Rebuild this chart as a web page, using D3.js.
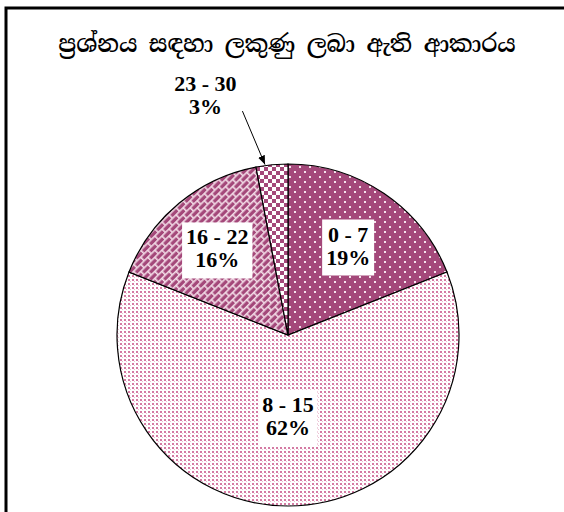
<!DOCTYPE html>
<html>
<head>
<meta charset="utf-8">
<script src="https://cdnjs.cloudflare.com/ajax/libs/d3/7.8.5/d3.min.js"></script>
<style>
  html, body { margin: 0; padding: 0; background: #fff; }
  svg { display: block; }
</style>
</head>
<body>
<div id="chart"></div>
<script>
// data
const title = "ප්‍රශ්නය සඳහා ලකුණු ලබා ඇති ආකාරය";
const categories = ["0 - 7", "8 - 15", "16 - 22", "23 - 30"];
const percents = [19, 62, 16, 3];
const patterns = ["dots", "fine", "brick", "check"];

const width = 564;
const height = 512;
const purple = "#a4487a";

const svg = d3.select("#chart")
    .append("svg")
    .attr("width", width)
    .attr("height", height);

// patterns
const defs = svg.append("defs");

const pDots = defs.append("pattern")
    .attr("id", "dots")
    .attr("patternUnits", "userSpaceOnUse")
    .attr("width", 10).attr("height", 10);
pDots.append("rect").attr("width", 10).attr("height", 10).attr("fill", purple);
pDots.append("rect").attr("x", 1).attr("y", 1).attr("width", 2).attr("height", 2).attr("fill", "#f4e4ec");
pDots.append("rect").attr("x", 6).attr("y", 6).attr("width", 2).attr("height", 2).attr("fill", "#f4e4ec");

const pFine = defs.append("pattern")
    .attr("id", "fine")
    .attr("patternUnits", "userSpaceOnUse")
    .attr("width", 4).attr("height", 4);
pFine.append("rect").attr("width", 4).attr("height", 4).attr("fill", "#fff");
pFine.append("rect").attr("x", 0).attr("y", 0).attr("width", 2).attr("height", 2).attr("fill", "#d47aa3");
pFine.append("rect").attr("x", 2).attr("y", 2).attr("width", 1).attr("height", 1).attr("fill", "#ecbdd2");

const pBrick = defs.append("pattern")
    .attr("id", "brick")
    .attr("patternUnits", "userSpaceOnUse")
    .attr("width", 10).attr("height", 10)
    .attr("patternTransform", "rotate(-45)");
pBrick.append("rect").attr("width", 10).attr("height", 10).attr("fill", purple);
pBrick.append("rect").attr("x", 0).attr("y", 0).attr("width", 10).attr("height", 1.6).attr("fill", "#f2dbe6");
pBrick.append("rect").attr("x", 0).attr("y", 5).attr("width", 10).attr("height", 1.6).attr("fill", "#f2dbe6");
pBrick.append("rect").attr("x", 0).attr("y", 0).attr("width", 1.6).attr("height", 5).attr("fill", "#f2dbe6");
pBrick.append("rect").attr("x", 5).attr("y", 5).attr("width", 1.6).attr("height", 5).attr("fill", "#f2dbe6");

const pCheck = defs.append("pattern")
    .attr("id", "check")
    .attr("patternUnits", "userSpaceOnUse")
    .attr("width", 8).attr("height", 8);
pCheck.append("rect").attr("width", 8).attr("height", 8).attr("fill", "#fff");
pCheck.append("rect").attr("x", 0).attr("y", 0).attr("width", 4).attr("height", 4).attr("fill", purple);
pCheck.append("rect").attr("x", 4).attr("y", 4).attr("width", 4).attr("height", 4).attr("fill", purple);

// frame
svg.append("rect")
    .attr("x", 6).attr("y", 8)
    .attr("width", 700).attr("height", 700)
    .attr("fill", "none")
    .attr("stroke", "#000")
    .attr("stroke-width", 3);

// title
svg.append("text")
    .attr("x", 287).attr("y", 52)
    .attr("text-anchor", "middle")
    .style("font-family", "'Noto Serif Sinhala', 'Iskoola Pota', 'Noto Sans Sinhala', serif")
    .style("font-size", "23px")
    .style("font-weight", "600")
    .text(title);

// pie
const cx = 288, cy = 335, radius = 171;
const pie = d3.pie().sort(null).value(d => d);
const arcs = pie(percents);
const arc = d3.arc().innerRadius(0).outerRadius(radius);

const g = svg.append("g").attr("transform", `translate(${cx},${cy})`);

g.selectAll("path.slice")
    .data(arcs)
    .enter()
    .append("path")
    .attr("class", "slice")
    .attr("d", arc)
    .attr("fill", (d, i) => `url(#${patterns[i]})`)
    .attr("stroke", "#000")
    .attr("stroke-width", 1.2);

// label positions (distance from centre along slice middle)
const labelDist = [107, 82, 111, 240];

arcs.forEach((d, i) => {
    const a = (d.startAngle + d.endAngle) / 2;
    let x = Math.sin(a) * labelDist[i];
    let y = -Math.cos(a) * labelDist[i];
    if (i === 3) { x -= 60; }
    const lab = g.append("g").attr("transform", `translate(${x},${y})`);
    const t = lab.append("text")
        .attr("text-anchor", "middle")
        .style("font-family", "'Liberation Serif', 'Times New Roman', serif")
        .style("font-weight", "bold")
        .style("font-size", "22px");
    t.append("tspan").attr("x", 0).attr("y", -5).text(categories[i]);
    t.append("tspan").attr("x", 0).attr("y", 18).text(percents[i] + "%");
    if (i < 3) {
        const bb = t.node().getBBox();
        lab.insert("rect", "text")
            .attr("x", bb.x - 4).attr("y", bb.y - 2)
            .attr("width", bb.width + 8).attr("height", bb.height + 8)
            .attr("fill", "#fff");
    } else {
        // arrow from the label to the small slice
        const tipA = a - 0.04;
        const x2 = Math.sin(tipA) * (radius + 1);
        const y2 = -Math.cos(tipA) * (radius + 1);
        defs.append("marker")
            .attr("id", "arrow")
            .attr("viewBox", "0 0 10 10")
            .attr("refX", 10).attr("refY", 5)
            .attr("markerWidth", 9).attr("markerHeight", 9)
            .attr("orient", "auto")
            .append("path")
            .attr("d", "M0,1L10,5L0,9Z")
            .attr("fill", "#000");
        g.append("line")
            .attr("x1", x + 37).attr("y1", y + 15)
            .attr("x2", x2).attr("y2", y2)
            .attr("stroke", "#000")
            .attr("stroke-width", 1)
            .attr("marker-end", "url(#arrow)");
    }
});
</script>
</body>
</html>
